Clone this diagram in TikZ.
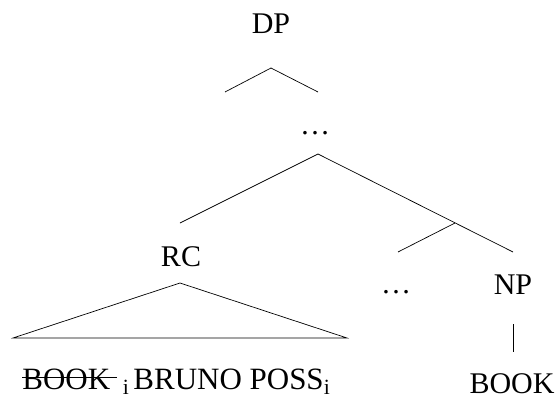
\documentclass[tikz,border=0pt]{standalone}
\usepackage{fontspec}
\setmainfont{Liberation Serif}
\usetikzlibrary{positioning}

\begin{document}
\begin{tikzpicture}[x=1pt, y=-1pt, line width=0.7pt,
    cat/.style={anchor=base, inner sep=0pt, font=\fontsize{30}{36}\selectfont},
    leaf/.style={cat, anchor=base west, font=\fontsize{31}{36}\selectfont}]
    \useasboundingbox (0,0) rectangle (558,399);

    % Labels
    \node[cat] (dp) at (271,33) {DP};
    \node[cat] (dotsa) at (315,134) {\dots};
    \node[cat] (rc) at (181,266) {RC};
    \node[cat] (dotsb) at (396,293) {\dots};
    \node[cat] (np) at (513,294) {NP};
    \node[cat] (book) at (512,393) {BOOK};
    \node[leaf] (gone) at (22,389) {BOOK};
    \node[leaf] (rel) at ([xshift=12pt]gone.base east) {\textsubscript{i}\hspace{4pt}BRUNO POSS\textsubscript{i}};

    % Branch points
    \coordinate (dptop) at (271,68);
    \coordinate (dpl) at (225,92);
    \coordinate (dpr) at (318,92);
    \coordinate (top) at (318,154);
    \coordinate (rctop) at (180,223);
    \coordinate (mid) at (455,223);
    \coordinate (dotstop) at (398,252);
    \coordinate (nptop) at (513,252);
    \coordinate (tri) at (180,283);
    \coordinate (tril) at (13,338);
    \coordinate (trir) at (347,338);
    \coordinate (npbot) at (513,324);
    \coordinate (booktop) at (513,352);

    % Branches
    \draw (dpl) -- (dptop) -- (dpr);
    \draw (rctop) -- (top) -- (nptop);
    \draw (dotstop) -- (mid);
    \draw (tril) -- (tri) -- (trir) -- cycle;
    \draw (npbot) -- (booktop);
    % struck-out copy
    \draw ([yshift=12pt]gone.base west) -- ([yshift=12pt, xshift=6pt]gone.base east);
\end{tikzpicture}
\end{document}
